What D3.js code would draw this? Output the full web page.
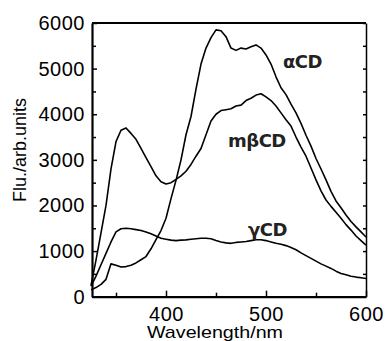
<!DOCTYPE html>
<html>
<head>
<meta charset="utf-8">
<script src="https://cdn.jsdelivr.net/npm/d3@7"></script>
<style>
  body { margin: 0; background: #fff; }
  svg { display: block; }
</style>
</head>
<body>
<div id="chart"></div>
<script>
// wavelength grid (nm) shared by all three spectra
const wavelengths = [325, 330, 335, 340, 345, 350, 355, 360, 365, 370, 375, 380, 385, 390, 395,
  400, 405, 410, 415, 420, 425, 430, 435, 440, 445, 450, 455, 460, 465, 470, 475, 480, 485, 490, 495,
  500, 505, 510, 515, 520, 525, 530, 535, 540, 545, 550, 555, 560, 565, 570, 575, 580, 585, 590, 595, 600];

const alphaCD = [150, 200, 270, 380, 720, 690, 650, 660, 690, 740, 810, 880, 1050, 1250, 1450,
  1720, 2150, 2550, 3000, 3550, 3950, 4550, 5100, 5450, 5680, 5850, 5830, 5700, 5450, 5400, 5450, 5430, 5480, 5520, 5450,
  5300, 5100, 4820, 4580, 4430, 4220, 4030, 3800, 3540, 3300, 3030, 2800, 2560, 2310, 2100, 1950, 1790, 1650, 1530, 1420, 1310];

const mbetaCD = [250, 800, 1400, 2000, 2800, 3400, 3650, 3700, 3580, 3450, 3250, 3050, 2850, 2650, 2520,
  2470, 2500, 2570, 2650, 2750, 2900, 3080, 3250, 3550, 3850, 4000, 4080, 4100, 4120, 4180, 4200, 4300, 4350, 4420, 4450,
  4380, 4300, 4180, 4030, 3880, 3740, 3500, 3280, 3080, 2820, 2560, 2320, 2120, 1980, 1850, 1720, 1580, 1460, 1330, 1230, 1130];

const gammaCD = [230, 450, 700, 950, 1200, 1420, 1490, 1500, 1490, 1470, 1450, 1420, 1380, 1330, 1280,
  1260, 1240, 1230, 1240, 1245, 1260, 1270, 1280, 1280, 1270, 1230, 1200, 1180, 1170, 1190, 1200, 1210, 1230, 1250, 1250,
  1230, 1200, 1170, 1150, 1120, 1080, 1030, 960, 900, 840, 780, 720, 670, 620, 560, 510, 480, 450, 430, 415, 400];

const xTicks = [400, 500, 600];
const xMinor = [350, 450, 550];
const yTicks = [0, 1000, 2000, 3000, 4000, 5000, 6000];
const yMinor = [500, 1500, 2500, 3500, 4500, 5500];

// curve labels, anchored in data units
const labelText = ['αCD', 'mβCD', 'γCD'];
const labelW = [517, 462, 482];
const labelV = [5020, 3285, 1330];

const width = 386, height = 341;
const svg = d3.select('#chart').append('svg')
  .attr('width', width).attr('height', height);

const x = d3.scaleLinear().domain([326, 600]).range([92, 366]);
const y = d3.scaleLinear().domain([0, 6000]).range([296.7, 23]);

const font = '"Liberation Sans", Arial, sans-serif';

// frame: top + right
svg.append('line')
  .attr('x1', x(326)).attr('x2', x(600)).attr('y1', y(6000)).attr('y2', y(6000))
  .attr('stroke', '#000').attr('stroke-width', 2.2);
const right = svg.append('g').attr('transform', `translate(${x(600)},0)`)
  .call(d3.axisRight(y).tickValues(yTicks.concat(yMinor)).tickSizeInner(-3).tickSizeOuter(0).tickFormat(''));
right.select('.domain').attr('stroke-width', 1.5);

// bottom axis
const bottom = svg.append('g').attr('transform', `translate(0,${y(0)})`)
  .call(d3.axisBottom(x).tickValues(xTicks).tickSizeInner(-6).tickSizeOuter(0).tickPadding(10).tickFormat(d3.format('d')));
bottom.select('.domain').attr('stroke-width', 2.2);
svg.append('g').attr('transform', `translate(0,${y(0)})`)
  .call(d3.axisBottom(x).tickValues(xMinor).tickSizeInner(-4).tickSizeOuter(0).tickFormat(''))
  .select('.domain').remove();

// left axis
const left = svg.append('g').attr('transform', `translate(${x(326)},0)`)
  .call(d3.axisLeft(y).tickValues(yTicks).tickSizeInner(-5).tickSizeOuter(0).tickPadding(7).tickFormat(d3.format('d')));
left.select('.domain').attr('stroke-width', 2.2);
svg.append('g').attr('transform', `translate(${x(326)},0)`)
  .call(d3.axisLeft(y).tickValues(yMinor).tickSizeInner(-4).tickSizeOuter(0).tickFormat(''))
  .select('.domain').remove();

svg.selectAll('.tick line').attr('stroke-width', 1.5);
svg.selectAll('.tick text')
  .attr('font-family', font)
  .attr('font-size', '20px')
  .attr('letter-spacing', '0.5px')
  .attr('fill', '#000');

// spectra
const line = d3.line()
  .x((d, i) => x(wavelengths[i]))
  .y(d => y(d));

[alphaCD, mbetaCD, gammaCD].forEach(series => {
  svg.append('path')
    .datum(series)
    .attr('fill', 'none')
    .attr('stroke', '#000')
    .attr('stroke-width', 1.6)
    .attr('stroke-linejoin', 'round')
    .attr('d', line);
});

// curve labels
labelText.forEach((t, i) => {
  svg.append('text')
    .attr('x', x(labelW[i]))
    .attr('y', y(labelV[i]))
    .attr('font-family', '"DejaVu Sans", sans-serif')
    .attr('font-weight', 'bold')
    .attr('font-size', '18px')
    .attr('letter-spacing', '-0.5px')
    .attr('fill', '#222')
    .text(t);
});

// axis titles
svg.append('text')
  .attr('transform', 'translate(26,150) rotate(-90)')
  .attr('text-anchor', 'middle')
  .attr('font-family', font)
  .attr('font-size', '18px')
  .text('Flu./arb.units');

svg.append('text')
  .attr('x', 147).attr('y', 338)
  .attr('textLength', 136)
  .attr('lengthAdjust', 'spacingAndGlyphs')
  .attr('font-family', font)
  .attr('font-size', '17px')
  .text('Wavelength/nm');
</script>
</body>
</html>
